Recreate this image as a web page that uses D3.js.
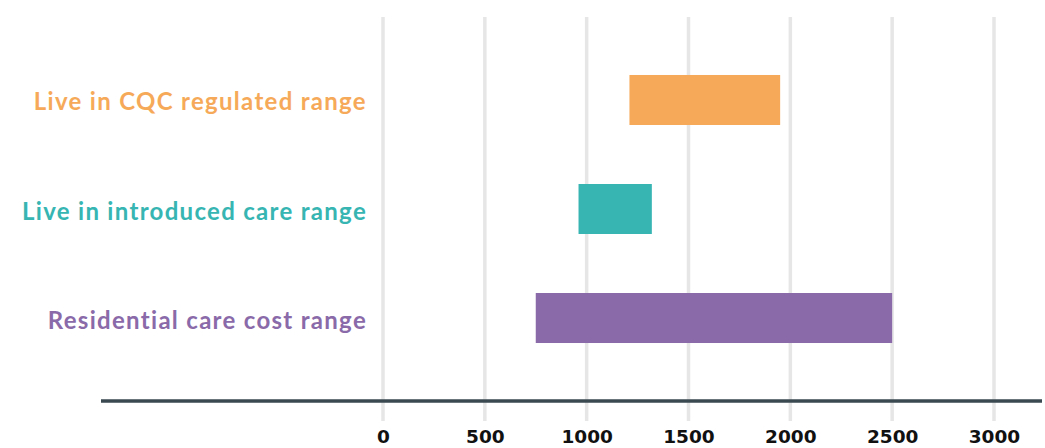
<!DOCTYPE html>
<html>
<head>
<meta charset="utf-8">
<script src="https://cdn.jsdelivr.net/npm/d3@7"></script>
<style>
  html, body { margin: 0; padding: 0; background: #ffffff; }
  svg { display: block; }
</style>
</head>
<body>
<svg id="chart" width="1045" height="448"></svg>
<script>
// Weekly cost ranges (£) for each type of care
const categories = [
  "Live in CQC regulated range",
  "Live in introduced care range",
  "Residential care cost range"
];
const rangeLow  = [1210, 960, 750];
const rangeHigh = [1950, 1320, 2500];
const barColors = ["#F6AA59", "#36B5B3", "#8A6AA9"];
const tickValues = [0, 500, 1000, 1500, 2000, 2500, 3000];

const rows = categories.map((c, i) => ({
  name: c, low: rangeLow[i], high: rangeHigh[i], color: barColors[i]
}));

const svg = d3.select("#chart");

const x = d3.scaleLinear().domain([0, 3000]).range([383, 994]);
const y = d3.scaleBand()
  .domain(categories)
  .range([17, 401])
  .paddingInner(59 / 109)
  .paddingOuter(0.532);

// vertical gridlines
svg.append("g")
  .selectAll("line")
  .data(tickValues)
  .join("line")
  .attr("x1", d => x(d)).attr("x2", d => x(d))
  .attr("y1", 17).attr("y2", 421)
  .attr("stroke", "#e6e6e6")
  .attr("stroke-width", 3.5);

// range bars
svg.append("g")
  .selectAll("rect")
  .data(rows)
  .join("rect")
  .attr("x", d => x(d.low))
  .attr("width", d => x(d.high) - x(d.low))
  .attr("y", d => y(d.name))
  .attr("height", y.bandwidth())
  .attr("fill", d => d.color);

// category labels
svg.append("g")
  .selectAll("text")
  .data(rows)
  .join("text")
  .attr("x", 367)
  .attr("y", d => y(d.name) + y.bandwidth() / 2 + 1)
  .attr("text-anchor", "end")
  .attr("dominant-baseline", "central")
  .attr("fill", d => d.color)
  .style("font-family", "Lato, 'Open Sans', sans-serif")
  .style("font-weight", "700")
  .style("font-size", "24px")
  .style("letter-spacing", "1.3px")
  .text(d => d.name);

// baseline
svg.append("line")
  .attr("x1", 101).attr("x2", 1042)
  .attr("y1", 401).attr("y2", 401)
  .attr("stroke", "#3a4850")
  .attr("stroke-width", 3.5);

// x axis tick labels
const xAxis = d3.axisBottom(x)
  .tickValues(tickValues)
  .tickFormat(d3.format("d"))
  .tickSize(0)
  .tickPadding(0);
const gx = svg.append("g").attr("transform", "translate(0,430)").call(xAxis);
gx.select(".domain").remove();
gx.selectAll("text")
  .attr("dy", "0.71em")
  .attr("fill", "#111111")
  .style("font-family", "'DejaVu Sans', sans-serif")
  .style("font-weight", "700")
  .style("font-size", "18.5px");
</script>
</body>
</html>
